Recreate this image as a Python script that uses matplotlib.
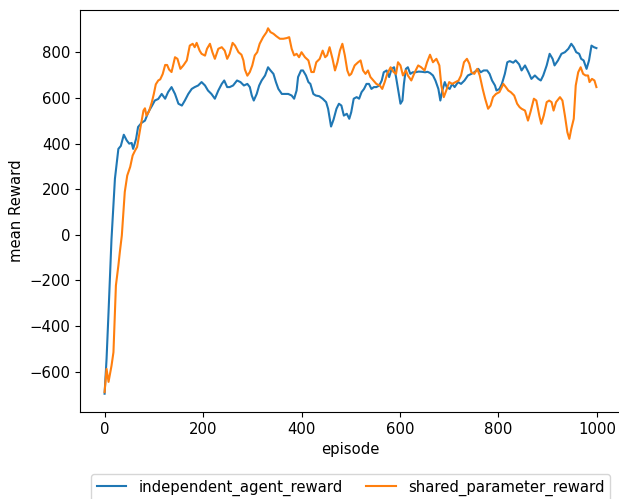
import matplotlib
matplotlib.use('Agg')
import matplotlib.pyplot as plt

# values (episode, mean reward)
ind_ep = [0, 4, 8, 14, 21, 28, 33, 39, 45, 50, 55, 58, 64, 68, 75, 82, 89, 96, 102, 109,
          116, 123, 129, 136, 143, 150, 157, 163, 170, 177, 183, 190, 197, 204, 210, 217,
          224, 231, 238, 243, 249, 254, 261, 269, 276, 283, 290, 295, 299, 303, 309, 314,
          319, 326, 332, 337, 343, 348, 353, 360, 366, 373, 380, 385, 390, 393, 399, 403,
          409, 414, 418, 424, 429, 436, 443, 450, 454, 460, 465, 471, 476, 481, 486, 492,
          497, 501, 506, 512, 517, 522, 527, 532, 537, 542, 547, 552, 558, 563, 567, 573,
          578, 583, 588, 592, 596, 601, 605, 608, 612, 616, 621, 626, 631, 638, 645, 651,
          656, 661, 667, 672, 678, 682, 686, 691, 695, 701, 706, 711, 718, 724, 731, 738,
          745, 751, 759, 764, 770, 777, 782, 787, 793, 796, 802, 807, 813, 818, 823, 830,
          835, 842, 847, 854, 861, 867, 874, 881, 886, 891, 898, 904, 910, 914, 921, 928,
          935, 942, 948, 953, 958, 964, 968, 973, 979, 984, 989, 994, 999]
ind_rew = [-697, -544, -340, -20, 246, 377, 390, 439, 414, 400, 403, 377, 421, 473, 491, 501, 539, 565, 589, 596,
           618, 597, 626, 648, 618, 575, 567, 589, 618, 640, 648, 655, 670, 655, 633, 618,
           597, 633, 662, 677, 648, 648, 655, 677, 670, 655, 662, 648, 611, 589, 618, 655,
           677, 699, 735, 721, 706, 670, 640, 618, 618, 618, 611, 597, 633, 692, 721, 721,
           699, 670, 662, 618, 611, 608, 597, 582, 553, 475, 505, 553, 575, 567, 523, 531,
           509, 538, 597, 604, 597, 626, 640, 662, 662, 640, 648, 648, 655, 677, 713, 721,
           692, 728, 735, 692, 640, 575, 589, 662, 728, 735, 706, 713, 713, 716, 715, 713,
           715, 710, 699, 677, 640, 589, 633, 670, 648, 640, 662, 648, 670, 662, 677, 699,
           706, 713, 728, 713, 721, 721, 706, 677, 655, 633, 640, 662, 706, 757, 762, 755,
           765, 748, 721, 743, 713, 684, 699, 684, 677, 699, 743, 794, 772, 743, 765, 794,
           801, 816, 838, 823, 801, 794, 772, 765, 728, 765, 830, 823, 819]

sh_ep = [0, 4, 8, 12, 14, 18, 23, 28, 31, 35, 41, 46, 52, 57, 62, 66, 70, 73, 79, 82,
         85, 90, 96, 100, 104, 109, 113, 118, 123, 127, 131, 136, 143, 148, 154, 160, 167,
         173, 179, 183, 187, 193, 197, 204, 208, 214, 219, 224, 231, 238, 244, 249, 254,
         260, 265, 272, 278, 282, 285, 290, 295, 300, 305, 310, 315, 322, 329, 332, 337,
         343, 349, 356, 363, 370, 375, 380, 385, 390, 395, 400, 407, 414, 420, 425, 430,
         437, 443, 448, 452, 457, 463, 468, 473, 478, 483, 488, 493, 497, 501, 508, 515,
         520, 525, 530, 535, 540, 546, 552, 559, 564, 569, 574, 581, 587, 592, 596, 601,
         606, 612, 616, 623, 630, 637, 643, 650, 655, 661, 667, 674, 680, 684, 689, 694,
         700, 706, 713, 719, 724, 730, 736, 741, 745, 751, 757, 762, 768, 773, 779, 784,
         789, 795, 802, 810, 815, 820, 825, 832, 838, 843, 847, 854, 860, 865, 872, 877,
         883, 887, 892, 898, 903, 908, 912, 917, 925, 930, 935, 940, 944, 948, 953, 957,
         962, 967, 972, 977, 982, 985, 990, 995, 999]
sh_rew = [-690, -588, -645, -600, -575, -515, -222, -135, -75, -3, 188, 260, 298, 348, 370, 385, 436, 473, 545, 555,
          523, 540, 582, 618, 660, 677, 682, 705, 745, 745, 725, 714, 779, 772, 728, 743, 765,
          830, 838, 823, 842, 808, 794, 786, 816, 838, 801, 772, 816, 823, 808, 772, 794,
          842, 830, 801, 790, 765, 725, 698, 714, 743, 787, 801, 838, 867, 889, 906, 889,
          882, 871, 860, 860, 863, 867, 816, 787, 794, 779, 801, 779, 765, 714, 714, 757,
          772, 808, 779, 787, 823, 772, 721, 757, 808, 838, 787, 721, 699, 706, 743, 757,
          765, 721, 706, 721, 692, 677, 662, 655, 640, 670, 706, 735, 714, 706, 757, 743,
          699, 721, 699, 677, 713, 743, 735, 721, 757, 790, 757, 772, 743, 655, 604, 633,
          670, 662, 670, 677, 699, 757, 772, 750, 713, 706, 728, 699, 640, 597, 553, 567,
          604, 618, 626, 662, 648, 633, 626, 611, 575, 560, 553, 545, 501, 538, 597, 589,
          523, 487, 523, 582, 589, 582, 545, 582, 604, 589, 523, 450, 421, 465, 509, 655,
          713, 735, 706, 699, 699, 670, 684, 677, 648]

plt.rcParams['font.size'] = 10.7

fig = plt.figure(figsize=(6.19, 4.99), dpi=100)
ax = fig.add_axes([80 / 619, 87 / 499, 541 / 619, 402 / 499])

ax.plot(ind_ep, ind_rew, label='independent_agent_reward')
ax.plot(sh_ep, sh_rew, label='shared_parameter_reward')

ax.set_xlabel('episode')
ax.set_ylabel('mean Reward')
ax.legend(loc='upper center', bbox_to_anchor=(0.5, -0.135), ncol=2, columnspacing=1.6)

fig.savefig('out.png', dpi=100)
